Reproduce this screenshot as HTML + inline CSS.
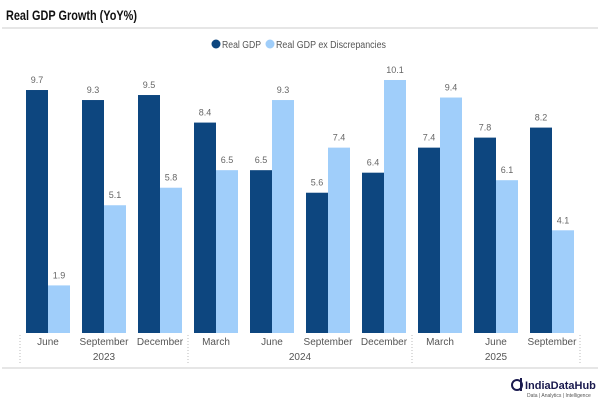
<!DOCTYPE html>
<html><head><meta charset="utf-8"><style>
body{margin:0;background:#fff;font-family:"Liberation Sans",sans-serif;}
#c{position:relative;width:600px;height:400px;overflow:hidden;}
</style></head><body>
<div id="c">
<svg id="s" width="600" height="400" xmlns="http://www.w3.org/2000/svg">
<text x="6" y="20" font-size="14" font-weight="bold" fill="#111" textLength="131" lengthAdjust="spacingAndGlyphs">Real GDP Growth (YoY%)</text>
<line x1="2" y1="28" x2="598" y2="28" stroke="#ddd" stroke-width="1.5"/>
<g>
<circle cx="216" cy="44" r="4.5" fill="#0d467f"/>
<text x="222" y="48" font-size="10" fill="#555" textLength="39" lengthAdjust="spacingAndGlyphs">Real GDP</text>
<circle cx="270" cy="44" r="4.5" fill="#a0cefa"/>
<text x="276" y="48" font-size="10" fill="#555" textLength="110" lengthAdjust="spacingAndGlyphs">Real GDP ex Discrepancies</text>
</g>
<g id="bars"></g>
<line x1="2" y1="368" x2="598" y2="368" stroke="#ddd" stroke-width="1.5"/>
<g>
<circle cx="517" cy="385" r="5" fill="none" stroke="#1a1a4e" stroke-width="2"/>
<line x1="521" y1="378" x2="521" y2="391" stroke="#1a1a4e" stroke-width="2"/>
<text x="525" y="389" font-size="11" font-weight="bold" fill="#1a1a4e">IndiaDataHub</text>
<text x="527" y="397" font-size="5" fill="#555">Data | Analytics | Intelligence</text>
</g>
</svg>
</div>
<script>
const months=["June","September","December","March","June","September","December","March","June","September"];
const realGDP=[9.7,9.3,9.5,8.4,6.5,5.6,6.4,7.4,7.8,8.2];
const exDisc=[1.9,5.1,5.8,6.5,9.3,7.4,10.1,9.4,6.1,4.1];
const years=["2023","2024","2025"];
const yearSpans=[[0,3],[3,7],[7,10]];
const x0=20,catW=56,base=333,pxPer=25.05;
const xPos=i=>x0+i*catW;
const yPos=v=>base-v*pxPer;
const g=document.getElementById('bars');
const NS="http://www.w3.org/2000/svg";
function mk(t,a){const e=document.createElementNS(NS,t);for(const k in a)e.setAttribute(k,a[k]);g.appendChild(e);return e;}
for(let i=0;i<months.length;i++){
 const x=xPos(i);
 let b=mk('rect',{x:x+6,y:yPos(realGDP[i]),width:22,height:base-yPos(realGDP[i]),fill:'#0d467f'});
 
 
 let t=mk('text',{x:x+17,y:yPos(realGDP[i])-7,'font-size':9,fill:'#666','text-anchor':'middle'});t.textContent=realGDP[i].toFixed(1);
 
 
 let b2=mk('rect',{x:x+28,y:yPos(exDisc[i]),width:22,height:base-yPos(exDisc[i]),fill:'#a0cefa'});
 
 
 let t2=mk('text',{x:x+39,y:yPos(exDisc[i])-7,'font-size':9,fill:'#666','text-anchor':'middle'});t2.textContent=exDisc[i].toFixed(1);
 
 
 let m=mk('text',{x:x+28,y:345,'font-size':10,fill:'#555','text-anchor':'middle'});m.textContent=months[i];
 
 
}
yearSpans.forEach((s,j)=>{
 let y=mk('text',{x:(xPos(s[0])+xPos(s[1]))/2,y:360,'font-size':10,fill:'#555','text-anchor':'middle'});y.textContent=years[j];
 
 
 let l=mk('line',{x1:xPos(s[0]),y1:335,x2:xPos(s[0]),y2:364,stroke:'#bbb','stroke-dasharray':'1,2'});
 
 
});
let l=mk('line',{x1:xPos(10),y1:335,x2:xPos(10),y2:364,stroke:'#bbb','stroke-dasharray':'1,2'});


</script>
</body></html>
